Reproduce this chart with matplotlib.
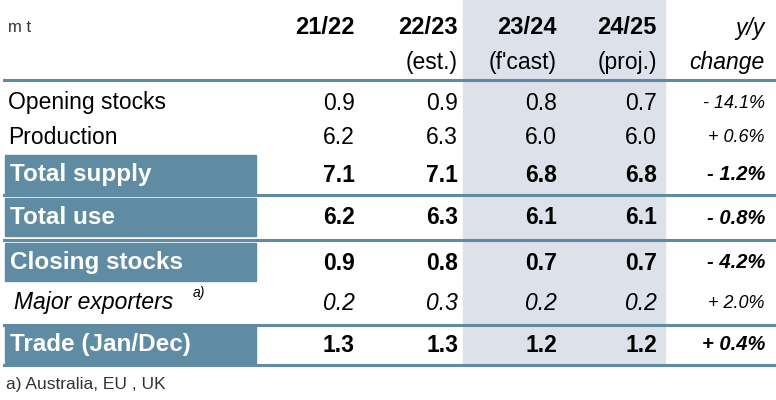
import matplotlib.pyplot as plt
from matplotlib.patches import Rectangle

plt.rcParams['font.family'] = ['Liberation Sans', 'DejaVu Sans']

periods = ["21/22", "22/23", "23/24", "24/25"]
subheads = ["", "(est.)", "(f'cast)", "(proj.)"]
row_labels = ["Opening stocks", "Production", "Total supply", "Total use",
              "Closing stocks", "Major exporters", "Trade (Jan/Dec)"]
values = [
    [0.9, 0.9, 0.8, 0.7],
    [6.2, 6.3, 6.0, 6.0],
    [7.1, 7.1, 6.8, 6.8],
    [6.2, 6.3, 6.1, 6.1],
    [0.9, 0.8, 0.7, 0.7],
    [0.2, 0.3, 0.2, 0.2],
    [1.3, 1.3, 1.2, 1.2],
]
changes = ["- 14.1%", "+ 0.6%", "- 1.2%", "- 0.8%", "- 4.2%", "+ 2.0%", "+ 0.4%"]
kind = ["plain", "plain", "box", "box", "box", "italic", "box"]

row_y = [103, 137, 175, 218, 263, 303, 345]
col_x = [355, 458, 557, 657]
chg_x = 765
box_col = "#5f8ca3"
line_col = "#5f8ca3"

fig = plt.figure(figsize=(7.76, 4.0), dpi=100)
ax = fig.add_axes([0, 0, 1, 1])
ax.set_xlim(0, 776)
ax.set_ylim(400, 0)
ax.axis("off")

ax.add_patch(Rectangle((463, 0), 202, 366, color="#dde1ea", zorder=0))

ax.text(8, 28, "m t", fontsize=12, va="center", color="#333333")
for x, p, s in zip(col_x, periods, subheads):
    ax.text(x, 28, p, fontsize=17, weight="bold", ha="right", va="center")
    if s:
        ax.text(x, 62, s, fontsize=16.5, ha="right", va="center")
ax.text(chg_x, 28, "y/y", fontsize=16.5, style="italic", ha="right", va="center")
ax.text(chg_x, 62, "change", fontsize=16.5, style="italic", ha="right", va="center")

for y in [80, 195, 240, 325, 365]:
    ax.plot([4, 776], [y, y], color=line_col, lw=2.2, zorder=2)

for y, lab, vals, chg, k in zip(row_y, row_labels, values, changes, kind):
    if k == "box":
        ax.add_patch(Rectangle((5, y - 20), 251, 38, color=box_col, zorder=1))
        ax.text(10, y, lab, fontsize=17.5, weight="bold", color="white", va="center")
        w, st, cs = "bold", "normal", "italic"
    elif k == "italic":
        ax.text(14, y, lab, fontsize=16.5, style="italic", va="center")
        ax.text(193, y - 10, "a)", fontsize=10, style="italic", va="center")
        w, st, cs = "normal", "italic", "italic"
    else:
        ax.text(8, y, lab, fontsize=16.5, va="center")
        w, st, cs = "normal", "normal", "italic"
    for x, v in zip(col_x, vals):
        ax.text(x, y, f"{v:.1f}", fontsize=16.5, weight=w, style=st, ha="right", va="center")
    ax.text(chg_x, y, chg, fontsize=13 if k != "box" else 14.5, weight=w, style=cs,
            ha="right", va="center")

ax.text(6, 385, "a) Australia, EU , UK", fontsize=12.5, va="center", color="#333333")

fig.savefig("out.png", dpi=100)
